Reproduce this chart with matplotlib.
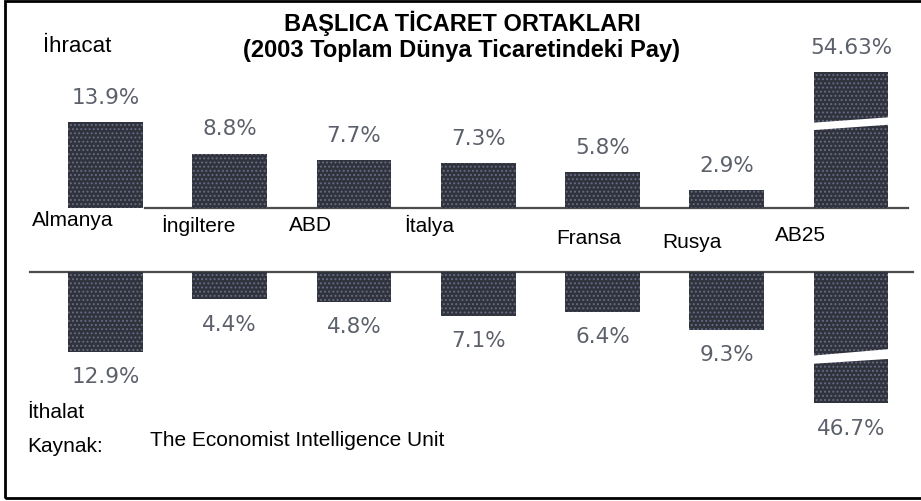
import matplotlib
matplotlib.use("Agg")
import matplotlib.pyplot as plt
from matplotlib.patches import Polygon, Rectangle

plt.rcParams['font.family'] = ['Liberation Sans', 'DejaVu Sans']
plt.rcParams['hatch.color'] = '#666c86'
plt.rcParams['hatch.linewidth'] = 0.9

# data (2003 share of total world trade)
countries = ["Almanya", "İngiltere", "ABD", "İtalya", "Fransa", "Rusya", "AB25"]
exports = [13.9, 8.8, 7.7, 7.3, 5.8, 2.9, 54.63]
imports = [12.9, 4.4, 4.8, 7.1, 6.4, 9.3, 46.7]
export_labels = ["13.9%", "8.8%", "7.7%", "7.3%", "5.8%", "2.9%", "54.63%"]
import_labels = ["12.9%", "4.4%", "4.8%", "7.1%", "6.4%", "9.3%", "46.7%"]

# layout
W, H = 921, 501
PX_X = 124.25          # pixels per category step
PX_Y = 6.19            # pixels per percent
X0_PX = 105.5          # first bar center in pixels
BASE_PX = 208          # export baseline, pixels from top
IMPORT_BASE = -10.34   # import baseline in data units
CAP_EXP = 22.0         # shown height of broken bars
CAP_IMP = 21.2
BAR_W = 0.6
BAR_COLOR = '#30323c'
VALUE_COLOR = '#5c606b'
NAME_DX = [-0.59, -0.55, -0.52, -0.6, -0.37, -0.52, -0.61]
NAME_DY = [-2.1, -2.9, -2.9, -2.9, -4.85, -5.5, -4.5]

fig = plt.figure(figsize=(W / 100, H / 100), dpi=100)
ax = fig.add_axes([0, 0, 1, 1])
ax.set_axis_off()
left = -X0_PX / PX_X
ax.set_xlim(left, left + W / PX_X)
ax.set_ylim(-(H - BASE_PX) / PX_Y, BASE_PX / PX_Y)

xs = list(range(len(countries)))
exp_shown = [min(v, CAP_EXP) for v in exports]
imp_shown = [min(v, CAP_IMP) for v in imports]

ax.bar(xs, exp_shown, width=BAR_W, bottom=0, color=BAR_COLOR, hatch='....', zorder=2)
ax.bar(xs, [-v for v in imp_shown], width=BAR_W, bottom=IMPORT_BASE, color=BAR_COLOR,
       hatch='....', zorder=2)


def draw_break(x, y0, sign):
    # white slanted band across a bar that is cut short
    l = x - BAR_W / 2 - 0.05
    r = x + BAR_W / 2 + 0.05
    if sign > 0:
        pts = [(l, y0 + 0.2), (r, y0 + 1.2), (r, y0 + 2.4), (l, y0 + 1.4)]
    else:
        pts = [(l, y0 + 0.2), (r, y0 + 1.4), (r, y0 - 0.2), (l, y0 - 1.1)]
    ax.add_patch(Polygon(pts, closed=True, facecolor='white', edgecolor='none', zorder=3))


for i in xs:
    if exports[i] > CAP_EXP:
        draw_break(i, CAP_EXP * 0.56, 1)
    if imports[i] > CAP_IMP:
        draw_break(i, IMPORT_BASE - CAP_IMP * 0.65, -1)

# baselines
ax.plot([145 / PX_X + left, 908 / PX_X + left], [0, 0], color='#4d4d4d', lw=1.6, zorder=1)
ax.plot([30 / PX_X + left, 913 / PX_X + left], [IMPORT_BASE, IMPORT_BASE], color='#4d4d4d',
        lw=1.6, zorder=1)

# value labels
for i in xs:
    ax.text(i, exp_shown[i] + 3.9, export_labels[i], ha='center', va='center', fontsize=15.5,
            family='DejaVu Sans', color=VALUE_COLOR)
    ax.text(i, IMPORT_BASE - imp_shown[i] - 4.1, import_labels[i], ha='center', va='center',
            fontsize=15.5, family='DejaVu Sans', color=VALUE_COLOR)

# country names
for i in xs:
    ax.text(i + NAME_DX[i], NAME_DY[i], countries[i], ha='left', va='center', fontsize=15,
            color='black', zorder=4)


def fig_text(xp, yp, s, **kw):
    fig.text(xp / W, 1 - yp / H, s, **kw)


fig_text(462, 23, "BAŞLICA TİCARET ORTAKLARI", ha='center', va='center', fontsize=17,
         fontweight='bold')
fig_text(461, 50, "(2003 Toplam Dünya Ticaretindeki Pay)", ha='center', va='center',
         fontsize=17, fontweight='bold')
fig_text(43, 47, "İhracat", ha='left', va='center', fontsize=16)
fig_text(27, 412, "İthalat", ha='left', va='center', fontsize=15)
fig_text(27, 447, "Kaynak:", ha='left', va='center', fontsize=15)
fig_text(150, 440, "The Economist Intelligence Unit", ha='left', va='center', fontsize=15)

# frame of the scanned page
fig.add_artist(Rectangle((4.5 / W, 3 / H), 1.05, (H - 4) / H, transform=fig.transFigure,
                         fill=False, edgecolor='black', lw=2))

fig.savefig("out.png", dpi=100)
